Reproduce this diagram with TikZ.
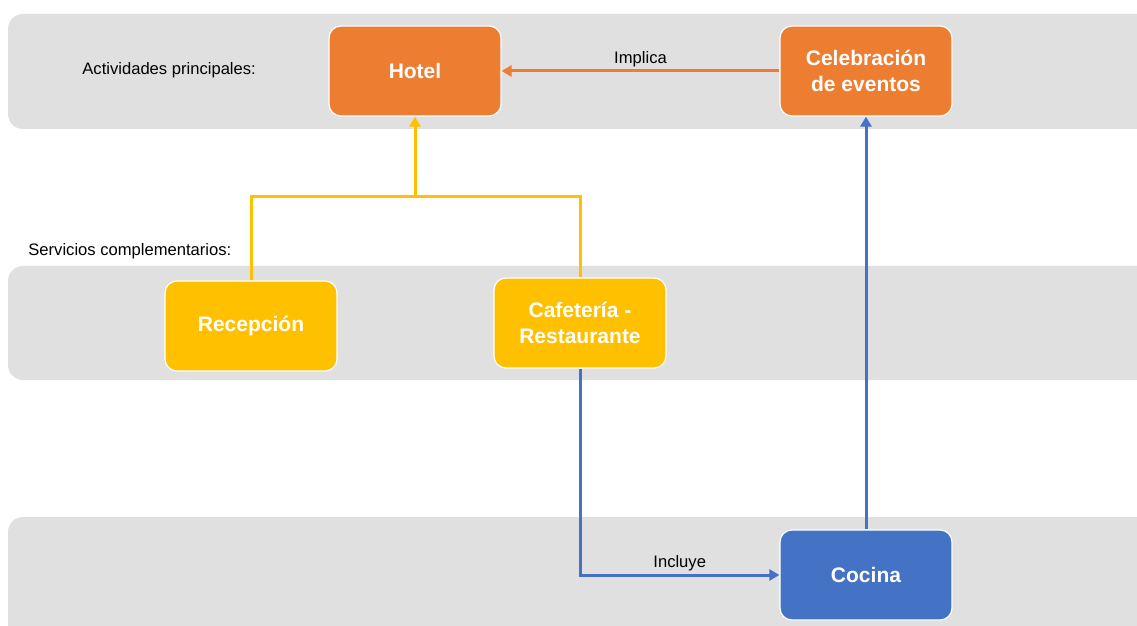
\documentclass[tikz,border=0pt]{standalone}
\usepackage{fontspec}
\setmainfont{Liberation Sans}
\usetikzlibrary{arrows.meta}
\definecolor{bandgrey}{RGB}{224,224,224}
\definecolor{actorange}{RGB}{237,125,49}
\definecolor{servyellow}{RGB}{255,192,0}
\definecolor{cocblue}{RGB}{68,114,196}
\begin{document}
\begin{tikzpicture}[
    x=0.5pt, y=-0.5pt,
    every node/.style={font=\fontsize{8.3pt}{10pt}\selectfont},
    band/.style={fill=bandgrey,rounded corners=7.5pt},
    box/.style={draw=white,line width=0.6pt,rounded corners=6pt,
        minimum width=86pt,minimum height=45pt,align=center,text=white,
        font=\fontsize{10.5pt}{12.8pt}\selectfont\bfseries},
    act/.style={box,fill=actorange},
    serv/.style={box,fill=servyellow},
    coc/.style={box,fill=cocblue},
    oline/.style={draw=actorange,line width=1.5pt},
    yline/.style={draw=servyellow,line width=1.5pt},
    bline/.style={draw=cocblue,line width=1.5pt},
    tip/.style={-{Triangle[length=5pt,width=5.5pt]}},
    lbl/.style={text=black,inner sep=1.5pt}
]
\useasboundingbox (0,0) rectangle (1137,626);
\clip (0,0) rectangle (1137,626);

\path [band] (8, 14) rectangle (1170, 129);
\path [band] (8,266) rectangle (1170, 380);
\path [band] (8,517) rectangle (1170, 660);

\node [anchor=west,inner sep=0] (actlbl)  at (82, 70) {Actividades principales:};
\node [anchor=west,inner sep=0] (servlbl) at (28,251) {Servicios complementarios:};

\node [act]  (hotel)  at (415, 71) {Hotel};
\node [act]  (celeb)  at (866, 71) {Celebración\\de eventos};
\node [serv] (recep)  at (251,326) {Recepción};
\node [serv] (cafe)   at (580,323) {Cafetería -\\Restaurante};
\node [coc]  (cocina) at (866,575) {Cocina};

\coordinate (jn) at (415,197);

\draw [oline,tip] (celeb.west) -- (hotel.east)
    node [midway,above,lbl] (implica) {Implica};
\draw [yline] (recep.north) |- (jn);
\draw [yline] (cafe.north) |- (jn);
\draw [yline,tip] (jn) -- (hotel.south);
\draw [bline,tip] (cafe.south) |- (cocina.west)
    node [pos=0.75,above,lbl] (incluye) {Incluye};
\draw [bline,tip] (cocina.north) -- (celeb.south);

\end{tikzpicture}
\end{document}
